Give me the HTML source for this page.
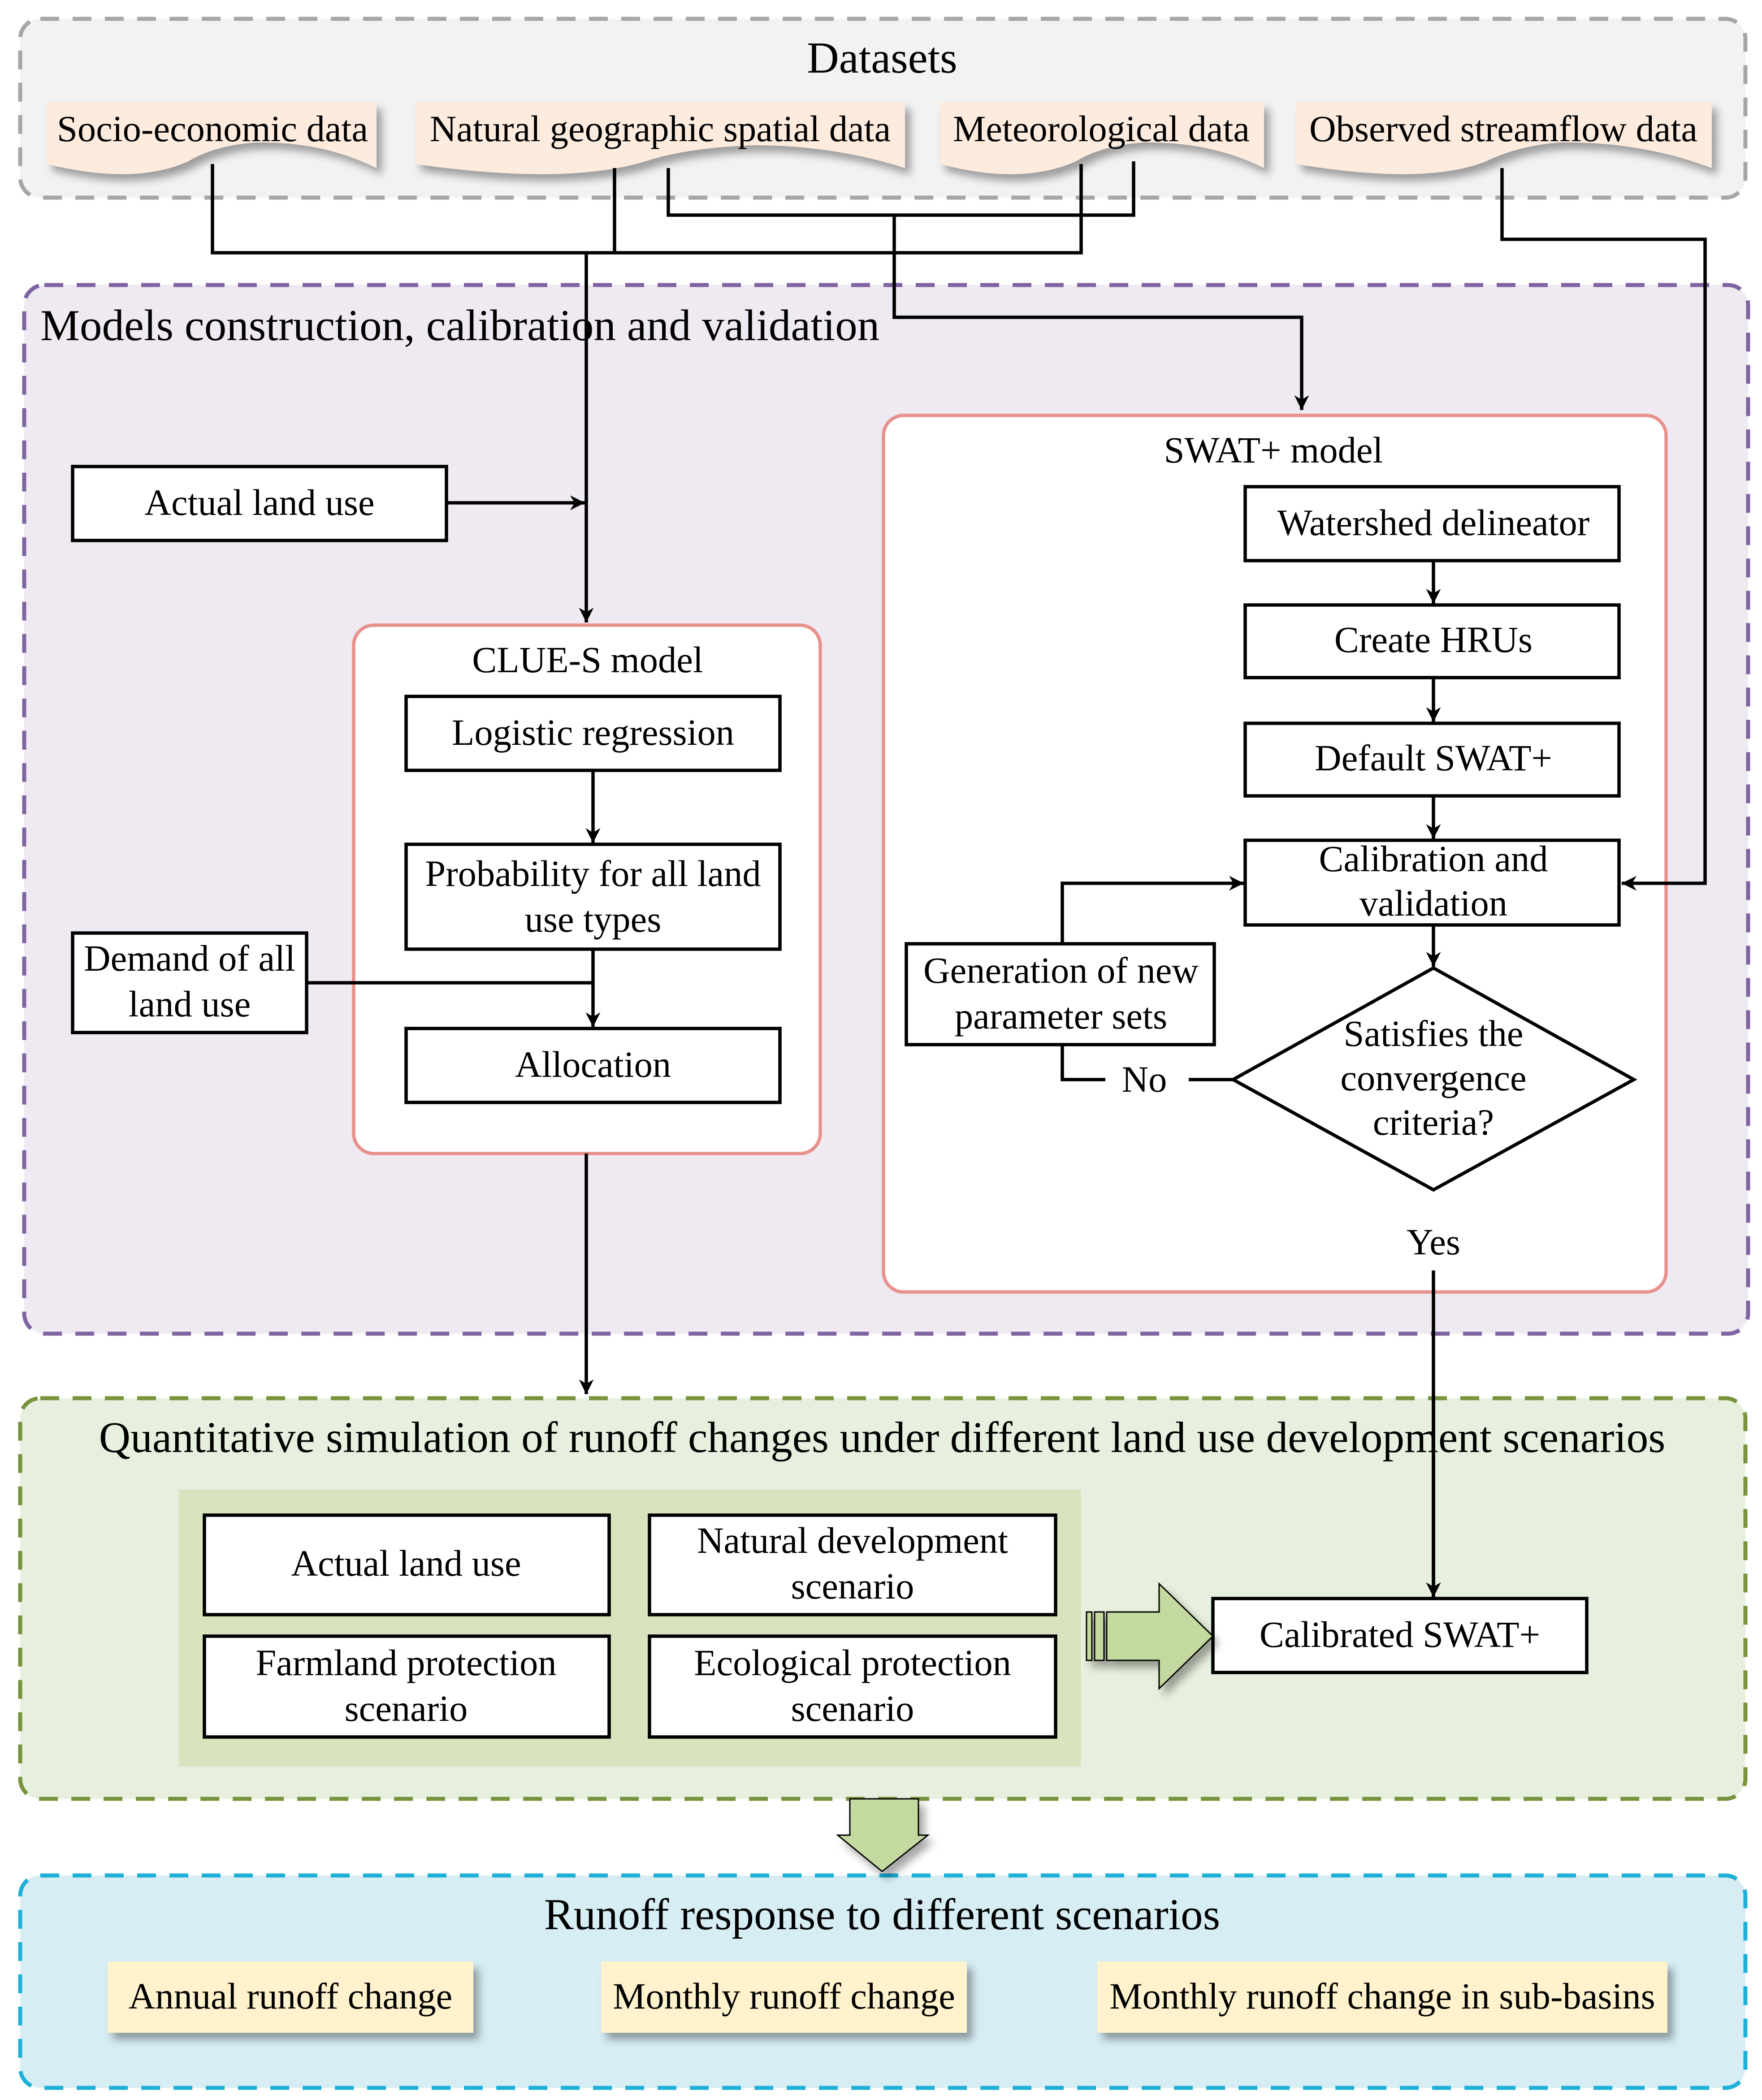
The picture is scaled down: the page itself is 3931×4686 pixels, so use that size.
<!DOCTYPE html>
<html><head><meta charset="utf-8"><style>html,body{margin:0;padding:0;background:#fff}svg{display:block}text{font-family:"Liberation Serif",serif;fill:#000}</style></head><body>
<svg width="3931" height="4686" viewBox="0 0 1310.33 1562" preserveAspectRatio="none" xmlns="http://www.w3.org/2000/svg">
<defs>
<marker id="a" viewBox="0 0 10 10" refX="10" refY="5" markerWidth="15" markerHeight="11" orient="auto" markerUnits="userSpaceOnUse"><path d="M0,0 L10,5 L0,10 L3,5z" fill="#000"/></marker>
<filter id="sh" x="-10%" y="-20%" width="130%" height="160%"><feDropShadow dx="4" dy="5" stdDeviation="3" flood-color="#000" flood-opacity="0.35"/></filter>
</defs>
<g stroke-dasharray="14 10" stroke-width="3">
<rect x="15" y="14" width="1283" height="133" rx="15" fill="#f2f2f2" stroke="#a6a6a6"/>
<rect x="18" y="212" width="1282" height="780" rx="15" fill="#efe9f1" stroke="#8064a2"/>
<rect x="15" y="1040" width="1283" height="298" rx="15" fill="#e7f0de" stroke="#77933c"/>
<rect x="15" y="1395" width="1283" height="158" rx="15" fill="#d6edf3" stroke="#1fb0d8"/>
</g>
<text x="656" y="54" font-size="33" text-anchor="middle">Datasets</text>
<g fill="#fdebde" filter="url(#sh)">
<path d="M35,76 H280 V125 Q240,105 190,106 Q160,108 140,120 Q100,138 35,122 Z"/>
<path d="M309,76 H673 V125 Q620,108 560,108 Q510,110 480,120 Q420,138 309,122 Z"/>
<path d="M699,76 H940 V125 Q900,105 850,106 Q820,108 800,120 Q760,138 699,122 Z"/>
<path d="M964,76 H1273 V125 Q1220,105 1160,106 Q1130,108 1105,120 Q1060,138 964,122 Z"/>
</g>
<g font-size="27.5" text-anchor="middle">
<text x="158" y="105">Socio-economic data</text>
<text x="491" y="105">Natural geographic spatial data</text>
<text x="819" y="105">Meteorological data</text>
<text x="1118" y="105">Observed streamflow data</text>
</g>
<text x="30" y="253" font-size="33">Models construction, calibration and validation</text>
<rect x="263" y="465" width="347" height="393" rx="15" fill="#fff" stroke="#e8918d" stroke-width="2.5"/>
<rect x="657" y="309" width="582" height="652" rx="15" fill="#fff" stroke="#e8918d" stroke-width="2.5"/>
<g fill="#fff" stroke="#000" stroke-width="2.5">
<rect x="54" y="347" width="278" height="55"/>
<rect x="302" y="518" width="278" height="55"/>
<rect x="302" y="628" width="278" height="78"/>
<rect x="302" y="765" width="278" height="55"/>
<rect x="54" y="694" width="174" height="74"/>
<rect x="926" y="362" width="278" height="55"/>
<rect x="926" y="450" width="278" height="54"/>
<rect x="926" y="538" width="278" height="54"/>
<rect x="926" y="625" width="278" height="63"/>
<rect x="674" y="702" width="229" height="75"/>
<polygon points="917,803 1066,720 1215,803 1066,885"/>
</g>
<g fill="none" stroke="#000" stroke-width="2.5">
<polyline points="158,122 158,188 804,188 804,122"/>
<line x1="457" y1="125" x2="457" y2="188"/>
<polyline points="497,125 497,160 843,160 843,120"/>
<polyline points="665,160 665,236 968,236 968,305" marker-end="url(#a)"/>
<polyline points="1117,125 1117,178 1268,178 1268,657 1206,657" marker-end="url(#a)"/>
<line x1="436" y1="188" x2="436" y2="463" marker-end="url(#a)"/>
<line x1="332" y1="374" x2="435" y2="374" marker-end="url(#a)"/>
<line x1="441" y1="573" x2="441" y2="627" marker-end="url(#a)"/>
<line x1="441" y1="706" x2="441" y2="764" marker-end="url(#a)"/>
<line x1="228" y1="731" x2="441" y2="731"/>
<line x1="436" y1="858" x2="436" y2="1037" marker-end="url(#a)"/>
<line x1="1066" y1="417" x2="1066" y2="449" marker-end="url(#a)"/>
<line x1="1066" y1="504" x2="1066" y2="537" marker-end="url(#a)"/>
<line x1="1066" y1="592" x2="1066" y2="624" marker-end="url(#a)"/>
<line x1="1066" y1="688" x2="1066" y2="719" marker-end="url(#a)"/>
<polyline points="790,702 790,657 925,657" marker-end="url(#a)"/>
<polyline points="790,777 790,803 822,803"/>
<line x1="884" y1="803" x2="917" y2="803"/>
<line x1="1066" y1="945" x2="1066" y2="1188" marker-end="url(#a)"/>
</g>
<g font-size="27.5" text-anchor="middle">
<text x="437" y="500">CLUE-S model</text>
<text x="947" y="344">SWAT+ model</text>
<text x="193" y="383">Actual land use</text>
<text x="441" y="554">Logistic regression</text>
<text x="441" y="659">Probability for all land</text>
<text x="441" y="693">use types</text>
<text x="441" y="801">Allocation</text>
<text x="141" y="722">Demand of all</text>
<text x="141" y="756">land use</text>
<text x="1066" y="398">Watershed delineator</text>
<text x="1066" y="485">Create HRUs</text>
<text x="1066" y="573">Default SWAT+</text>
<text x="1066" y="648">Calibration and</text>
<text x="1066" y="681">validation</text>
<text x="789" y="731">Generation of new</text>
<text x="789" y="765">parameter sets</text>
<text x="1066" y="778">Satisfies the</text>
<text x="1066" y="811">convergence</text>
<text x="1066" y="844">criteria?</text>
<text x="851" y="812">No</text>
<text x="1066" y="933">Yes</text>
</g>
<text x="656" y="1080" font-size="32.5" text-anchor="middle">Quantitative simulation of runoff changes under different land use development scenarios</text>
<rect x="133" y="1108" width="671" height="206" fill="#d7e4bd"/>
<g fill="#fff" stroke="#000" stroke-width="2.5">
<rect x="152" y="1127" width="301" height="74"/>
<rect x="483" y="1127" width="302" height="74"/>
<rect x="152" y="1217" width="301" height="75"/>
<rect x="483" y="1217" width="302" height="75"/>
<rect x="902" y="1189" width="278" height="55"/>
</g>
<line x1="1066" y1="1040" x2="1066" y2="1188" stroke="#000" stroke-width="2.5" marker-end="url(#a)"/>
<g fill="#c3d99f" stroke="#000" stroke-width="1" filter="url(#sh)">
<rect x="808" y="1199" width="4" height="36"/>
<rect x="814" y="1199" width="7" height="36"/>
<path d="M823,1199 H862 V1178 L902,1217 L862,1256 V1235 H823 Z"/>
<path d="M632,1338 H683 V1365 H690 L656,1392 L623,1365 H632 Z"/>
</g>
<g font-size="27.5" text-anchor="middle">
<text x="302" y="1172">Actual land use</text>
<text x="634" y="1155">Natural development</text>
<text x="634" y="1189">scenario</text>
<text x="302" y="1246">Farmland protection</text>
<text x="302" y="1280">scenario</text>
<text x="634" y="1246">Ecological protection</text>
<text x="634" y="1280">scenario</text>
<text x="1041" y="1225">Calibrated SWAT+</text>
</g>
<text x="656" y="1435" font-size="33" text-anchor="middle">Runoff response to different scenarios</text>
<g fill="#fff2cc" filter="url(#sh)">
<rect x="80" y="1459" width="272" height="53"/>
<rect x="447" y="1459" width="272" height="53"/>
<rect x="816" y="1459" width="424" height="53"/>
</g>
<g font-size="27.5" text-anchor="middle">
<text x="216" y="1494">Annual runoff change</text>
<text x="583" y="1494">Monthly runoff change</text>
<text x="1028" y="1494">Monthly runoff change in sub-basins</text>
</g>
</svg>
</body></html>
